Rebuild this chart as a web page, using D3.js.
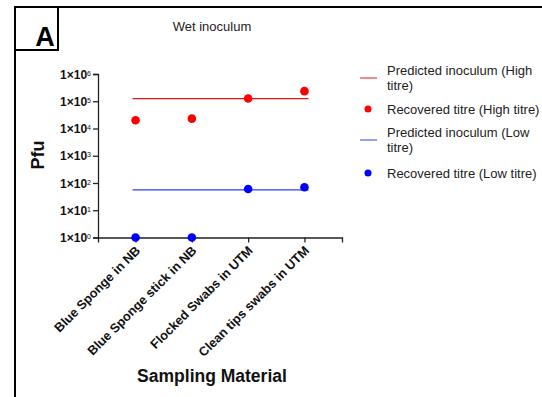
<!DOCTYPE html>
<html>
<head>
<meta charset="utf-8">
<script src="https://cdn.jsdelivr.net/npm/d3@7"></script>
<style>
  body { margin: 0; background: #fff; }
  text { font-family: Arial, "Liberation Sans", sans-serif; }
</style>
</head>
<body>
<div id="chart"></div>
<script>
const categories = ['Blue Sponge in NB', 'Blue Sponge stick in NB', 'Flocked Swabs in UTM', 'Clean tips swabs in UTM']
const predictedHigh = 124000
const predictedLow = 56
const recoveredHigh = [20000, 23000, 126000, 235000]
const recoveredLow = [1, 1, 60, 70]
const yTicks = [0, 1, 2, 3, 4, 5, 6]
const legendItems = [
    { kind: 'line', color: '#e8141c', lines: ['Predicted inoculum (High', 'titre)'] },
    { kind: 'dot', color: '#ff0000', lines: ['Recovered titre (High titre)'] },
    { kind: 'line', color: '#2b3cf0', lines: ['Predicted inoculum (Low', 'titre)'] },
    { kind: 'dot', color: '#0000ff', lines: ['Recovered titre (Low titre)'] }
]

const width = 542
const height = 397

const svg = d3.select('#chart')
    .append('svg')
    .attr('width', width)
    .attr('height', height)

// panel frame + "A" box
svg.append('line').attr('x1', 15).attr('y1', 7).attr('x2', width).attr('y2', 7)
    .attr('stroke', '#000').attr('stroke-width', 2)
svg.append('line').attr('x1', 15).attr('y1', 7).attr('x2', 15).attr('y2', height)
    .attr('stroke', '#000').attr('stroke-width', 2)
svg.append('rect').attr('x', 15).attr('y', 7).attr('width', 43).attr('height', 43)
    .attr('fill', 'none').attr('stroke', '#000').attr('stroke-width', 2)
svg.append('text').attr('x', 45).attr('y', 46).attr('text-anchor', 'middle')
    .attr('font-size', 27).attr('font-weight', 'bold').text('A')

svg.append('text').attr('x', 212).attr('y', 31).attr('text-anchor', 'middle')
    .attr('font-size', 13).attr('fill', '#222').text('Wet inoculum')

const xScale = d3.scalePoint().domain(categories).range([98, 342]).padding(0.667)
const yScale = d3.scaleLog().domain([1, 1e6]).range([237.5, 74])

// y axis
const yAxis = d3.axisLeft(yScale)
    .tickValues(yTicks.map((e) => Math.pow(10, e)))
    .tickSize(5)
    .tickFormat(() => '')
const gy = svg.append('g').attr('transform', 'translate(98, 0)').call(yAxis)
gy.select('.domain').attr('stroke', '#222').attr('stroke-width', 1.3)
gy.selectAll('.tick line').attr('stroke', '#222').attr('stroke-width', 1.3)
gy.selectAll('.tick').each(function (d) {
    const t = d3.select(this).append('text')
        .attr('x', -7).attr('dy', '0.35em').attr('text-anchor', 'end')
        .attr('fill', '#111').attr('font-size', 12).attr('font-weight', 'bold')
    t.append('tspan').text('1×10')
    t.append('tspan').attr('dy', '-0.45em').attr('font-size', 7).attr('font-weight', 'normal')
        .text(Math.round(Math.log10(d)))
})

// x axis
const xAxis = d3.axisBottom(xScale).tickSize(5).tickFormat(() => '')
const gx = svg.append('g').attr('transform', 'translate(0, 237.5)').call(xAxis)
gx.select('.domain').attr('stroke', '#222').attr('stroke-width', 1.3)
gx.selectAll('.tick line').attr('stroke', '#222').attr('stroke-width', 1.3)
gx.selectAll('.tick').append('text')
    .attr('transform', 'translate(5, 14) rotate(-45)')
    .attr('text-anchor', 'end')
    .attr('fill', '#111').attr('font-size', 12.8).attr('font-weight', 'bold')
    .text((d) => d)

// predicted lines
const x0 = xScale(categories[0]) - 3
const x1 = xScale(categories[categories.length - 1]) + 4
svg.append('line').attr('x1', x0).attr('x2', x1)
    .attr('y1', yScale(predictedHigh)).attr('y2', yScale(predictedHigh))
    .attr('stroke', '#e8141c').attr('stroke-width', 1.2)
svg.append('line').attr('x1', x0).attr('x2', x1)
    .attr('y1', yScale(predictedLow)).attr('y2', yScale(predictedLow))
    .attr('stroke', '#2b3cf0').attr('stroke-width', 1.2)

// recovered dots
svg.selectAll('circle.high')
    .data(recoveredHigh)
    .enter()
    .append('circle')
    .attr('class', 'high')
    .attr('cx', (d, i) => xScale(categories[i]))
    .attr('cy', (d) => yScale(d))
    .attr('r', 4.3)
    .attr('fill', '#ff0000')
svg.selectAll('circle.low')
    .data(recoveredLow)
    .enter()
    .append('circle')
    .attr('class', 'low')
    .attr('cx', (d, i) => xScale(categories[i]))
    .attr('cy', (d) => yScale(d))
    .attr('r', 4.3)
    .attr('fill', '#0000ff')

// axis titles
svg.append('text').attr('transform', 'translate(44, 155) rotate(-90)')
    .attr('text-anchor', 'middle').attr('font-size', 18).attr('font-weight', 'bold')
    .attr('fill', '#111').text('Pfu')
svg.append('text').attr('x', 212).attr('y', 382).attr('text-anchor', 'middle')
    .attr('font-size', 17.5).attr('font-weight', 'bold').attr('fill', '#111')
    .text('Sampling Material')

// legend
const legendY = [78, 109, 140, 173]
legendItems.forEach((item, i) => {
    const g = svg.append('g').attr('transform', `translate(0, ${legendY[i]})`)
    if (item.kind === 'line') {
        g.append('line').attr('x1', 360).attr('x2', 377).attr('y1', 0).attr('y2', 0)
            .attr('stroke', item.color).attr('stroke-width', 1)
    } else {
        g.append('circle').attr('cx', 368).attr('cy', 0).attr('r', 3.5).attr('fill', item.color)
    }
    const t = g.append('text').attr('font-size', 13).attr('fill', '#222')
    const startY = item.lines.length === 2 ? -3 : 4.5
    item.lines.forEach((line, j) => {
        t.append('tspan').attr('x', 387).attr('y', startY + j * 15).text(line)
    })
})
</script>
</body>
</html>
